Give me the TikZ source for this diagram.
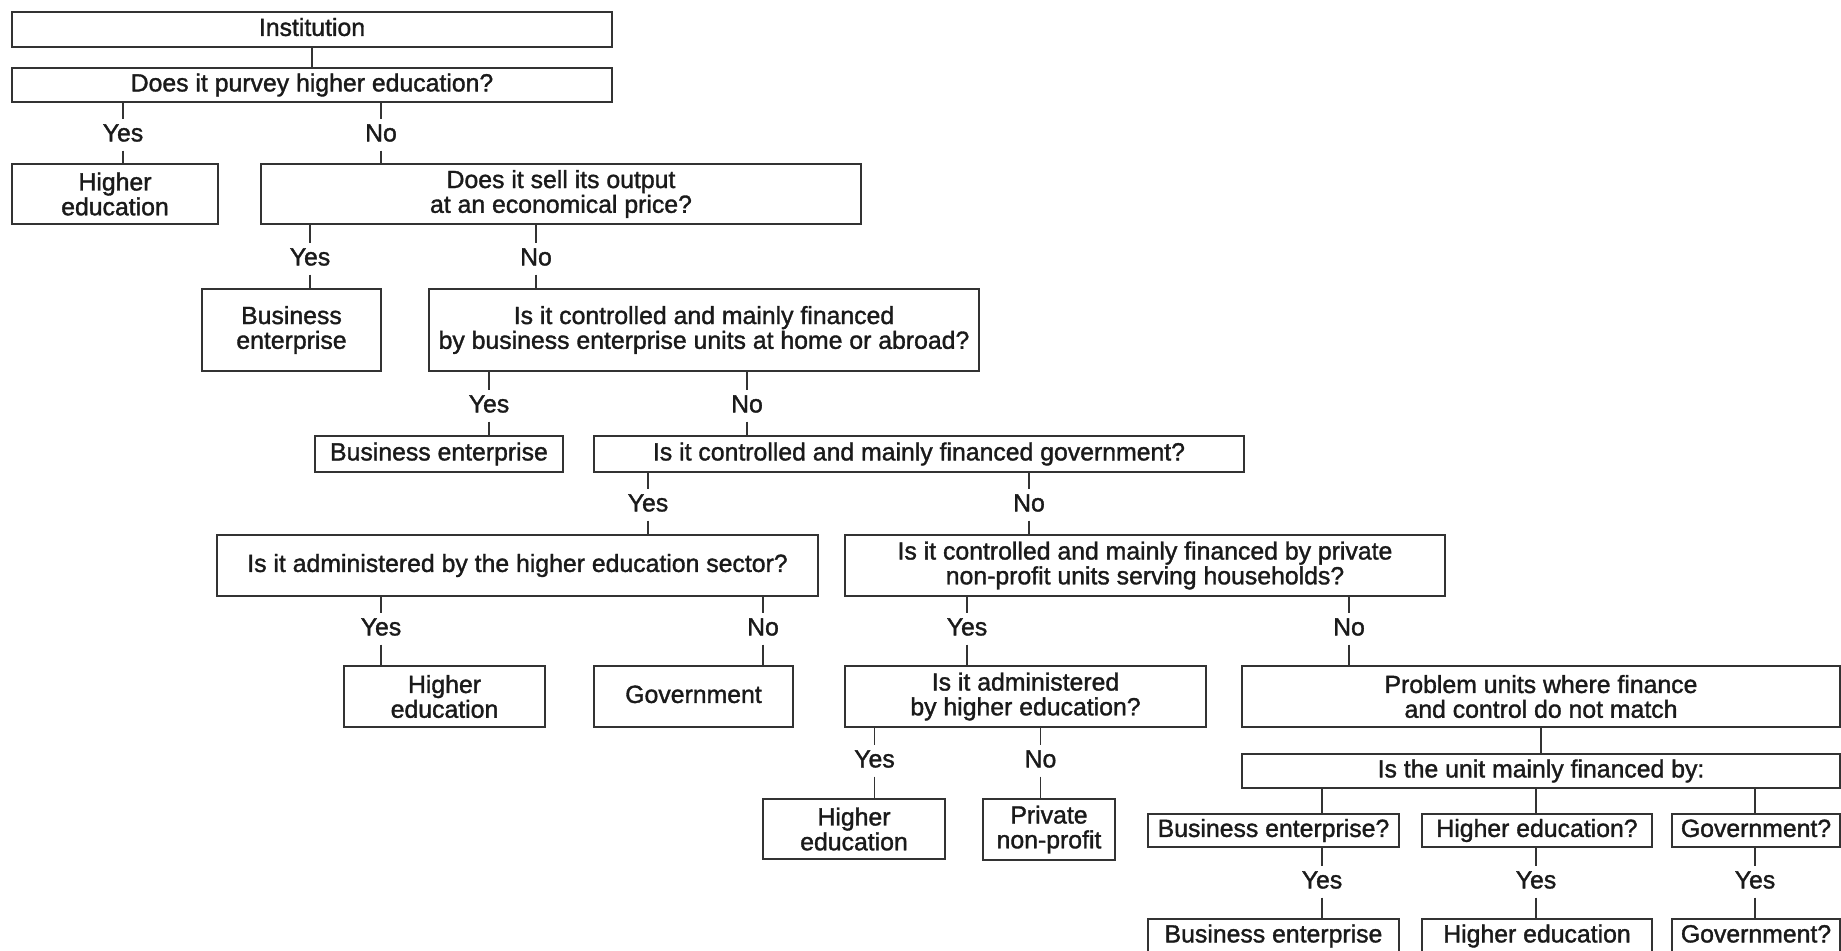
\documentclass[tikz,border=0pt]{standalone}
\usepackage{fontspec}
\setmainfont{Liberation Sans}[RawFeature={embolden=1.4}]
\definecolor{boxline}{HTML}{333333}
\definecolor{txt}{HTML}{1A1A1A}
\tikzset{sz/.style 2 args={minimum width=#1*0.5pt,minimum height=#2*0.5pt},
	oneline/.style={text height=9pt,text depth=2.6pt}}
\begin{document}
\begin{tikzpicture}[x=0.5pt,y=-0.5pt,line width=0.95pt,color=boxline,text=txt,
		font=\fontsize{12.4}{12.4}\selectfont]
			\useasboundingbox (0,0) rectangle (1841,951);
			\begin{scope}[shape=rectangle]
				\tikzstyle{every node}=[draw,align=center,inner sep=1pt]
				\node[sz={600}{35},oneline] (B_0) at (312,29.5) {Institution};
				\node[sz={600}{34},oneline] (B_1) at (312,85) {Does it purvey higher education?};
				\node[sz={206}{60}] (B_2) at (115,194) {Higher\\education};
				\node[sz={600}{60}] (B_3) at (561,194) {Does it sell its output\\at an economical price?};
				\node[sz={179}{82}] (B_4) at (291.5,330) {Business\\enterprise};
				\node[sz={550}{82}] (B_5) at (704,330) {Is it controlled and mainly financed\\by business enterprise units at home or abroad?};
				\node[sz={248}{36},oneline] (B_6) at (439,454) {Business enterprise};
				\node[sz={650}{36},oneline] (B_7) at (919,454) {Is it controlled and mainly financed government?};
				\node[sz={601}{61},oneline] (B_8) at (517.5,565.5) {Is it administered by the higher education sector?};
				\node[sz={600}{61}] (B_9) at (1145,565.5) {Is it controlled and mainly financed by private\\non-profit units serving households?};
				\node[sz={201}{61}] (B_10) at (444.5,696.5) {Higher\\education};
				\node[sz={199}{61},oneline] (B_11) at (693.5,696.5) {Government};
				\node[sz={361}{61}] (B_12) at (1025.5,696.5) {Is it administered\\by higher education?};
				\node[sz={598}{61}] (B_13) at (1541,696.5) {Problem units where finance\\and control do not match};
				\node[sz={182}{60}] (B_14) at (854,829) {Higher\\education};
				\node[sz={132}{61}] (B_15) at (1049,829.5) {Private\\non-profit};
				\node[sz={598}{34},oneline] (B_16) at (1541,771) {Is the unit mainly financed by:};
				\node[sz={251}{33},oneline] (B_17) at (1273.5,830.5) {Business enterprise?};
				\node[sz={230}{33},oneline] (B_18) at (1537,830.5) {Higher education?};
				\node[sz={168}{33},oneline] (B_19) at (1756,830.5) {Government?};
				\node[sz={251}{34},oneline] (B_20) at (1273.5,936) {Business enterprise};
				\node[sz={230}{34},oneline] (B_21) at (1537,936) {Higher education};
				\node[sz={168}{34},oneline] (B_22) at (1756,936) {Government?};
			\end{scope}
			\begin{scope}
				\tikzstyle{every node}=[inner sep=1.5pt,oneline]
				\node (Y_1) at (123,135) {Yes};
				\node (N_1) at (381,135) {No};
				\node (Y_2) at (310,259) {Yes};
				\node (N_2) at (536,259) {No};
				\node (Y_3) at (489,406) {Yes};
				\node (N_3) at (747,406) {No};
				\node (Y_4) at (648,505) {Yes};
				\node (N_4) at (1029,505) {No};
				\node (Y_5) at (381,629) {Yes};
				\node (N_5) at (763,629) {No};
				\node (Y_6) at (967,629) {Yes};
				\node (N_6) at (1349,629) {No};
				\node (Y_7) at (874.5,761) {Yes};
				\node (N_7) at (1040.5,761) {No};
				\node (Y_8) at (1322,882) {Yes};
				\node (Y_9) at (1536,882) {Yes};
				\node (Y_10) at (1755,882) {Yes};
			\end{scope}
			\draw (B_0) -- (B_1);
			\draw (B_1.south -| Y_1) -- (Y_1) -- (B_2.north -| Y_1);
			\draw (B_1.south -| N_1) -- (N_1) -- (B_3.north -| N_1);
			\draw (B_3.south -| Y_2) -- (Y_2) -- (B_4.north -| Y_2);
			\draw (B_3.south -| N_2) -- (N_2) -- (B_5.north -| N_2);
			\draw (B_5.south -| Y_3) -- (Y_3) -- (B_6.north -| Y_3);
			\draw (B_5.south -| N_3) -- (N_3) -- (B_7.north -| N_3);
			\draw (B_7.south -| Y_4) -- (Y_4) -- (B_8.north -| Y_4);
			\draw (B_7.south -| N_4) -- (N_4) -- (B_9.north -| N_4);
			\draw (B_8.south -| Y_5) -- (Y_5) -- (B_10.north -| Y_5);
			\draw (B_8.south -| N_5) -- (N_5) -- (B_11.north -| N_5);
			\draw (B_9.south -| Y_6) -- (Y_6) -- (B_12.north -| Y_6);
			\draw (B_9.south -| N_6) -- (N_6) -- (B_13.north -| N_6);
			\draw (B_12.south -| Y_7) -- (Y_7) -- (B_14.north -| Y_7);
			\draw (B_12.south -| N_7) -- (N_7) -- (B_15.north -| N_7);
			\draw (B_13.south -| B_16) -- (B_16);
			\draw (B_16.south -| Y_8) -- (B_17.north -| Y_8);
			\draw (B_16.south -| Y_9) -- (B_18.north -| Y_9);
			\draw (B_16.south -| Y_10) -- (B_19.north -| Y_10);
			\draw (B_17.south -| Y_8) -- (Y_8) -- (B_20.north -| Y_8);
			\draw (B_18.south -| Y_9) -- (Y_9) -- (B_21.north -| Y_9);
			\draw (B_19.south -| Y_10) -- (Y_10) -- (B_22.north -| Y_10);
		\end{tikzpicture}
\end{document}
